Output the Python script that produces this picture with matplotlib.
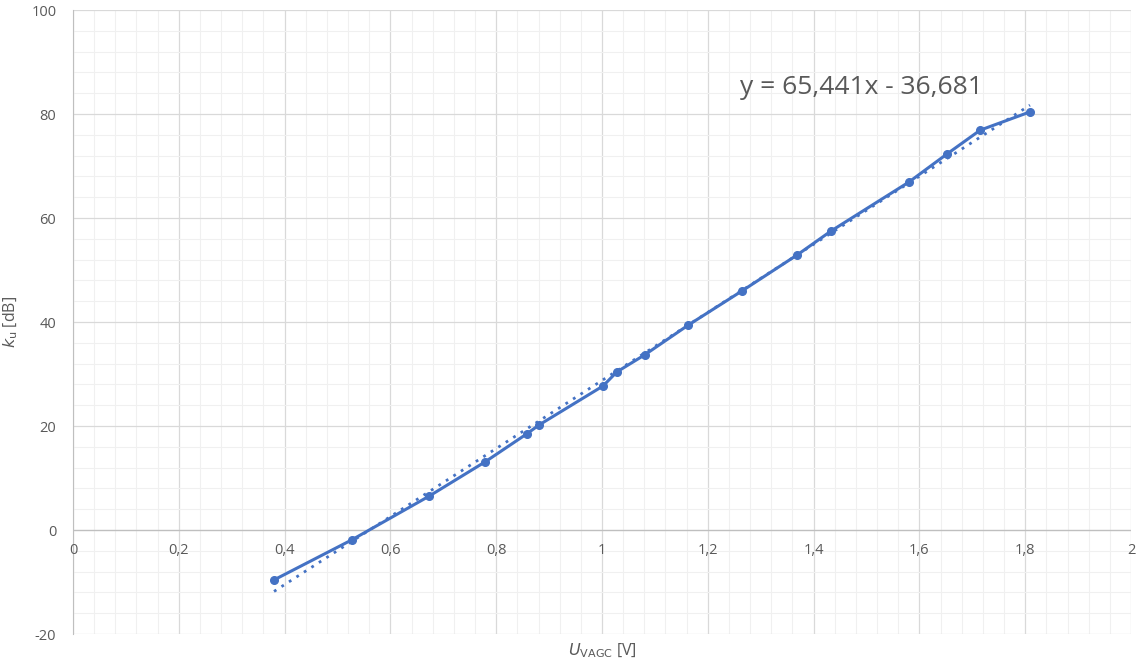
import matplotlib
matplotlib.use("Agg")
import matplotlib.pyplot as plt
import numpy as np
from matplotlib.ticker import MultipleLocator, FuncFormatter

u_vagc = [0.380, 0.527, 0.673, 0.779, 0.858, 0.881, 1.002, 1.028, 1.081, 1.163,
          1.265, 1.369, 1.433, 1.580, 1.652, 1.715, 1.809]
k_u = [-9.6, -1.9, 6.5, 13.1, 18.5, 20.2, 27.7, 30.4, 33.7, 39.4,
       46.0, 52.9, 57.5, 66.9, 72.3, 76.9, 80.4]
slope = 65.441
intercept = -36.681
equation = "y = 65,441x - 36,681"

plt.rcParams['font.family'] = ['Open Sans', 'DejaVu Sans']
col = '#4472C4'
txt = '#595959'

fig = plt.figure(figsize=(11.46, 6.62), dpi=100)
ax = fig.add_axes([73/1146, 28/662, 1058/1146, 624/662])
ax.set_xlim(0, 2)
ax.set_ylim(-20, 100)

ax.xaxis.set_major_locator(MultipleLocator(0.2))
ax.xaxis.set_minor_locator(MultipleLocator(0.04))
ax.yaxis.set_major_locator(MultipleLocator(20))
ax.yaxis.set_minor_locator(MultipleLocator(4))
ax.grid(which='major', color='#D9D9D9', linewidth=0.9)
ax.grid(which='minor', color='#F0F0F0', linewidth=0.8)
ax.set_axisbelow(True)
for s in ['top', 'right', 'bottom']:
    ax.spines[s].set_visible(False)
ax.spines['left'].set_color('#BFBFBF')
ax.axhline(0, color='#BFBFBF', linewidth=0.9, zorder=1)

ax.tick_params(which='both', length=0)
ax.tick_params(axis='y', labelsize=10.5, labelcolor=txt, pad=12)
ax.set_xticklabels([])
fmt = lambda v: ('%g' % v).replace('.', ',')
ax.yaxis.set_major_formatter(FuncFormatter(lambda v, p: fmt(v)))
for xv in np.arange(0, 2.0001, 0.2):
    ax.text(xv, -2.5, fmt(round(xv, 1)), ha='center', va='top', fontsize=10.5,
            color=txt)

ax.plot(u_vagc, k_u, color=col, linewidth=2.2, marker='o', markersize=5.5, zorder=3)
xs = np.array([min(u_vagc), max(u_vagc)])
ax.plot(xs, slope * xs + intercept, color=col, linewidth=2.0,
        linestyle=(0, (1, 2.2)), zorder=2)

ax.text(1.261, 85, equation, fontsize=19, color=txt, ha='left', va='center')

ax.set_xlabel(r'$\mathit{U}_{\mathrm{VAGC}}$ [V]', fontsize=11.5, color=txt, labelpad=2)
ax.set_ylabel(r'$\mathit{k}_{\mathrm{u}}$ [dB]', fontsize=11.5, color=txt, labelpad=8)

fig.savefig('out.png', dpi=100)
